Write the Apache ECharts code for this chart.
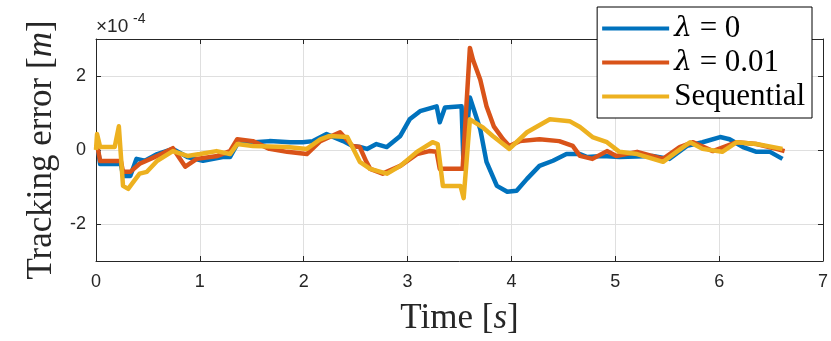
<!DOCTYPE html>
<html>
<head>
<meta charset="utf-8">
<script src="https://cdn.jsdelivr.net/npm/echarts@6/dist/echarts.min.js"></script>
<style>
  html, body { margin: 0; padding: 0; background: #fff; }
  #main { width: 831px; height: 341px; }
</style>
</head>
<body>
<div id="main"></div>
<script>
// time [s] and tracking error [x1e-4 m]
var blueT = [0, 0.02, 0.04, 0.21, 0.24, 0.26, 0.33, 0.39, 0.47, 0.59, 0.74, 0.88, 1.03, 1.22, 1.29, 1.36, 1.53, 1.67, 1.87, 1.99, 2.09, 2.22, 2.38, 2.47, 2.54, 2.61, 2.70, 2.80, 2.93, 3.02, 3.12, 3.28, 3.31, 3.36, 3.52, 3.54, 3.60, 3.70, 3.76, 3.86, 3.96, 4.05, 4.15, 4.27, 4.40, 4.53, 4.66, 4.73, 4.88, 5.04, 5.36, 5.52, 5.69, 5.84, 6.01, 6.10, 6.23, 6.36, 6.49, 6.61];
var blueV = [0, 0, -0.38, -0.38, -0.38, -0.70, -0.70, -0.24, -0.29, -0.11, 0.03, -0.19, -0.29, -0.19, -0.19, 0.16, 0.21, 0.24, 0.21, 0.21, 0.24, 0.43, 0.24, 0.11, 0.08, 0.03, 0.16, 0.08, 0.38, 0.83, 1.05, 1.18, 0.75, 1.15, 1.18, -0.51, 1.42, 0.56, -0.32, -0.97, -1.13, -1.10, -0.78, -0.43, -0.29, -0.11, -0.11, -0.19, -0.16, -0.19, -0.16, -0.24, 0.11, 0.21, 0.35, 0.29, 0.08, -0.05, -0.05, -0.24];

var redT = [0, 0.02, 0.04, 0.24, 0.26, 0.33, 0.42, 0.59, 0.74, 0.86, 0.97, 1.17, 1.29, 1.36, 1.51, 1.67, 1.84, 2.03, 2.16, 2.35, 2.47, 2.54, 2.60, 2.64, 2.76, 2.93, 3.09, 3.21, 3.28, 3.31, 3.53, 3.60, 3.63, 3.70, 3.76, 3.83, 3.92, 3.98, 4.08, 4.27, 4.46, 4.59, 4.66, 4.78, 4.92, 5.01, 5.21, 5.46, 5.62, 5.75, 5.94, 6.17, 6.36, 6.55, 6.63];
var redV = [0, 0, -0.30, -0.30, -0.59, -0.59, -0.37, -0.16, 0.05, -0.45, -0.24, -0.16, -0.03, 0.29, 0.24, 0.03, -0.05, -0.11, 0.24, 0.48, 0.11, 0.08, -0.30, -0.51, -0.64, -0.43, -0.11, -0.03, -0.05, -0.51, -0.51, 2.76, 2.44, 1.90, 1.18, 0.64, 0.29, 0.11, 0.24, 0.29, 0.24, 0.11, -0.16, -0.24, -0.03, -0.16, -0.05, -0.24, 0.08, 0.21, -0.03, 0.21, 0.16, 0.03, -0.03];

var seqT = [0, 0.01, 0.04, 0.18, 0.22, 0.26, 0.31, 0.36, 0.42, 0.49, 0.59, 0.74, 0.88, 1.00, 1.16, 1.29, 1.36, 1.51, 1.84, 2.03, 2.16, 2.25, 2.42, 2.54, 2.64, 2.80, 2.93, 3.09, 3.24, 3.29, 3.34, 3.51, 3.54, 3.60, 3.72, 3.82, 3.98, 4.15, 4.37, 4.56, 4.66, 4.78, 4.92, 5.04, 5.21, 5.46, 5.59, 5.72, 5.84, 6.03, 6.17, 6.36, 6.61];
var seqV = [0, 0.43, 0.08, 0.08, 0.64, -0.97, -1.05, -0.86, -0.64, -0.59, -0.29, -0.03, -0.16, -0.11, -0.03, -0.11, 0.16, 0.11, 0.08, 0.03, 0.29, 0.38, 0.35, -0.32, -0.51, -0.64, -0.43, -0.05, 0.21, 0.16, -0.97, -0.97, -1.30, 0.83, 0.62, 0.38, 0.03, 0.48, 0.83, 0.78, 0.62, 0.35, 0.21, -0.05, -0.11, -0.32, -0.05, 0.21, 0.03, -0.05, 0.21, 0.16, 0.03];

var seriesNames = ['λ = 0', 'λ = 0.01', 'Sequential'];
var colors = ['#0072BD', '#D95319', '#EDB120'];
var yTicks = [-2, 0, 2];

function pairs(t, v) {
  return t.map(function (x, i) { return [x, v[i]]; });
}

var chart = echarts.init(document.getElementById('main'));

var tickFont = { fontFamily: 'Liberation Sans', fontSize: 18, color: '#262626' };
var axisColor = '#262626';
var nameRich = {
  a: { fontFamily: 'Liberation Serif', fontSize: 35, color: '#262626' },
  i: { fontFamily: 'Liberation Serif', fontStyle: 'italic', fontSize: 35, color: '#262626' }
};

var option = {
  animation: false,
  color: colors,
  grid: { left: 96, right: 8, top: 39, bottom: 78 },
  legend: {
    right: 19,
    top: 7,
    orient: 'vertical',
    backgroundColor: '#fff',
    borderColor: '#000',
    borderWidth: 1,
    padding: [6, 7, 6, 5],
    itemGap: 3,
    itemWidth: 67,
    itemHeight: 4,
    icon: 'rect',
    data: seriesNames,
    formatter: function (name) {
      if (name.charAt(0) === 'λ') {
        return '{i|λ}{t|' + name.slice(1) + '}';
      }
      return '{t|' + name + '}';
    },
    textStyle: {
      rich: {
        i: { fontFamily: 'DejaVu Serif', fontStyle: 'italic', fontSize: 28, color: '#000', lineHeight: 33 },
        t: { fontFamily: 'Liberation Serif', fontSize: 31, color: '#000', lineHeight: 33 }
      }
    }
  },
  xAxis: [{
    type: 'value',
    min: 0, max: 7, interval: 1,
    name: '{a|Time [}{i|s}{a|]}',
    nameLocation: 'middle',
    nameGap: 40,
    nameTextStyle: { rich: nameRich },
    axisLine: { onZero: false, lineStyle: { color: axisColor, width: 1 } },
    axisTick: { inside: true, length: 5, lineStyle: { color: axisColor } },
    axisLabel: Object.assign({ margin: 12 }, tickFont),
    splitLine: { show: true, lineStyle: { color: '#dfdfdf', width: 1 } }
  }, {
    type: 'value',
    position: 'top',
    min: 0, max: 7, interval: 1,
    axisLine: { onZero: false, lineStyle: { color: axisColor, width: 1 } },
    axisTick: { inside: true, length: 5, lineStyle: { color: axisColor } },
    axisLabel: { show: false },
    splitLine: { show: false }
  }],
  yAxis: [{
    type: 'value',
    min: -3, max: 3,
    name: '{a|Tracking error [}{i|m}{a|]}',
    nameLocation: 'middle',
    nameRotate: 90,
    nameGap: 30,
    nameTextStyle: { rich: nameRich },
    axisLine: { show: true, onZero: false, lineStyle: { color: axisColor, width: 1 } },
    axisTick: { show: true, inside: true, length: 5, customValues: yTicks, lineStyle: { color: axisColor } },
    axisLabel: Object.assign({ margin: 10, customValues: yTicks }, tickFont),
    splitLine: { show: true, lineStyle: { color: '#dfdfdf', width: 1 } }
  }, {
    type: 'value',
    position: 'right',
    min: -3, max: 3,
    axisLine: { show: true, onZero: false, lineStyle: { color: axisColor, width: 1 } },
    axisTick: { show: true, inside: true, length: 5, customValues: yTicks, lineStyle: { color: axisColor } },
    axisLabel: { show: false, customValues: yTicks },
    splitLine: { show: false }
  }],
  graphic: [{
    type: 'text',
    left: 96,
    top: 17,
    style: { text: '×10', fontSize: 19, fontFamily: 'Liberation Sans', fill: '#262626' }
  }, {
    type: 'text',
    left: 133,
    top: 12,
    style: { text: '-4', fontSize: 14, fontFamily: 'Liberation Sans', fill: '#262626' }
  }],
  series: [
    { name: seriesNames[0], type: 'line', data: pairs(blueT, blueV) },
    { name: seriesNames[1], type: 'line', data: pairs(redT, redV) },
    { name: seriesNames[2], type: 'line', data: pairs(seqT, seqV) }
  ].map(function (s, i) {
    s.showSymbol = false;
    s.symbol = 'none';
    s.lineStyle = { width: 4.5, color: colors[i], join: 'round' };
    s.z = 3 + i;
    return s;
  })
};

chart.setOption(option);
</script>
</body>
</html>
